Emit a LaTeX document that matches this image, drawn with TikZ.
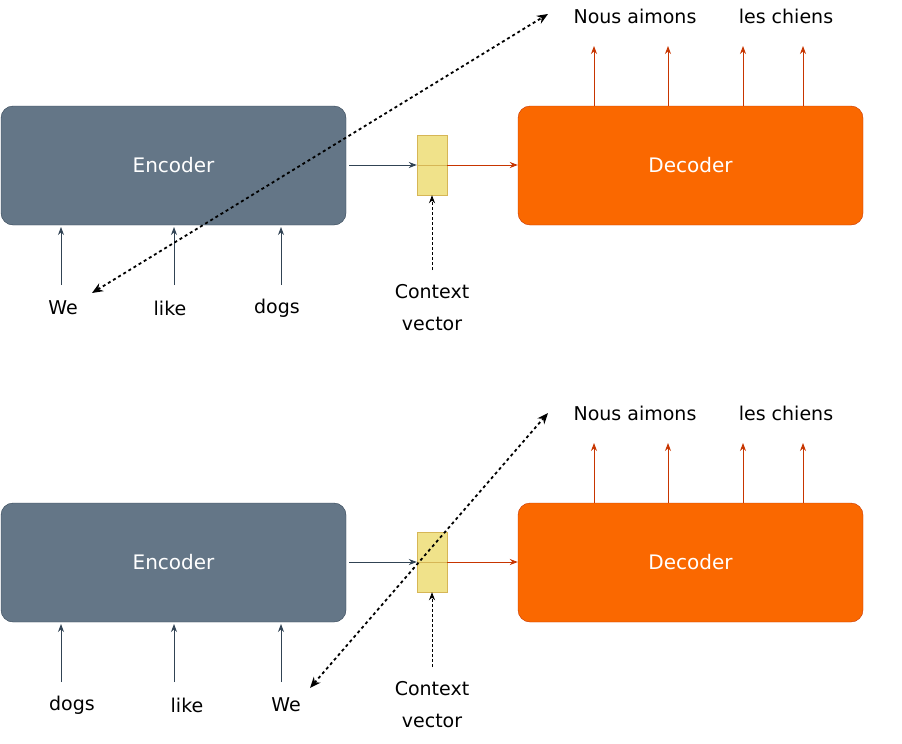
\documentclass[tikz,border=0pt]{standalone}
\usepackage{fontspec}
\setmainfont{DejaVu Sans}
\usetikzlibrary{arrows.meta}
\definecolor{encf}{HTML}{647687}\definecolor{encs}{HTML}{314354}
\definecolor{decf}{HTML}{FA6800}\definecolor{decs}{HTML}{C73500}
\definecolor{ctxf}{HTML}{F0E28A}\definecolor{ctxs}{HTML}{D6B656}
\tikzset{
 enc/.style={draw=encs,fill=encf,rounded corners=12pt,minimum width=345pt,minimum height=119pt,text=white,font=\fontsize{20}{24}\selectfont},
 dec/.style={draw=decs,fill=decf,rounded corners=12pt,minimum width=345pt,minimum height=119pt,text=white,font=\fontsize{20}{24}\selectfont},
 ctx/.style={draw=ctxs,fill=ctxf,minimum width=30pt,minimum height=30pt,inner sep=0pt},
 lbl/.style={font=\fontsize{19}{23}\selectfont,inner sep=0pt},
 ea/.style={draw=encs,-{Stealth[length=8pt,width=6pt]},line width=0.9pt},
 da/.style={draw=decs,-{Stealth[length=8pt,width=6pt]},line width=0.9pt},
 ca/.style={draw=black,densely dashed,-{Stealth[length=8pt,width=6pt]},line width=0.8pt},
 big/.style={draw=black,dashed,{Stealth[length=11pt,width=9pt]}-{Stealth[length=11pt,width=9pt]},line width=1.8pt},
}
\begin{document}
\begin{tikzpicture}[x=1pt,y=-1pt]
\useasboundingbox (0,0) rectangle (902,744);
\foreach \o/\p in {0/t,397/b}{
 \node[enc] (enc\p) at (173.5,165.5+\o) {Encoder};
 \node[dec] (dec\p) at (690.5,165.5+\o) {Decoder};
 \node[ctx] (c1\p) at (432,150+\o) {};
 \node[ctx] (c2\p) at (432,180+\o) {};
 \draw[ea] (349,165+\o) -- (c1\p.south west|-0,165+\o);
 \draw[da] (c1\p.south east|-0,165+\o) -- (dec\p.west|-0,165+\o);
 \foreach \x/\n in {594/a,668/b,743/c,803/d}{
  \coordinate (o\n\p) at (\x,46+\o);
  \draw[da] (\x,106+\o) -- (o\n\p);}
 \node[lbl] (nous\p) at (635,16+\o) {Nous aimons};
 \node[lbl] (les\p) at (786,16+\o) {les chiens};
 \node[lbl] (cv\p) at (432,292+\o) {Context};
 \node[lbl] (cw\p) at (432,324+\o) {vector};
 \coordinate (cs\p) at (432,270+\o);
 \draw[ca] (cs\p) -- (c2\p.south);
 \foreach \x/\n in {61/a,174/b,281/c}{
  \coordinate (i\n\p) at (\x,285+\o);
  \draw[ea] (i\n\p) -- (\x,227+\o);}
}
\node[lbl] (w1) at (63,308) {We};
\node[lbl] (l1) at (170,308) {like};
\node[lbl] (d1) at (277,308) {dogs};
\node[lbl] (d2) at (72,705) {dogs};
\node[lbl] (l2) at (187,705) {like};
\node[lbl] (w2) at (286,705) {We};
\coordinate (p1) at (92,293);\coordinate (q1) at (548,14);
\coordinate (p2) at (310,688);\coordinate (q2) at (548,413);
\draw[big] (p1) -- (q1);
\draw[big] (p2) -- (q2);
\end{tikzpicture}
\end{document}
